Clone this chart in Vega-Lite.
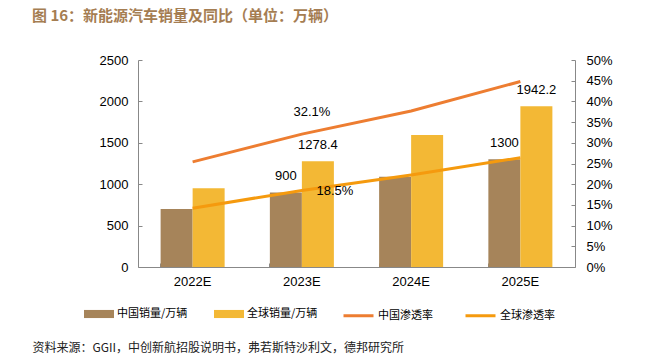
{
  "$schema": "https://vega.github.io/schema/vega-lite/v6.json",
  "width": 437,
  "height": 207,
  "autosize": {"type": "none"},
  "padding": {"left": 138, "top": 60, "right": 83, "bottom": 97},
  "background": "white",
  "config": {"view": {"stroke": null}, "font": "Liberation Sans"},
  "title": {
    "text": "图 16：新能源汽车销量及同比（单位：万辆）",
    "anchor": "start",
    "frame": "group",
    "dx": -106,
    "offset": 30,
    "font": "Noto Sans CJK SC",
    "fontSize": 15,
    "fontWeight": "bold",
    "color": "#A57D52"
  },
  "datasets": {
    "bars": [
      {"year": "2022E", "series": "中国销量/万辆", "value": 700, "label": null},
      {"year": "2022E", "series": "全球销量/万辆", "value": 950, "label": null},
      {"year": "2023E", "series": "中国销量/万辆", "value": 900, "label": "900"},
      {"year": "2023E", "series": "全球销量/万辆", "value": 1278.4, "label": "1278.4"},
      {"year": "2024E", "series": "中国销量/万辆", "value": 1090, "label": null},
      {"year": "2024E", "series": "全球销量/万辆", "value": 1595, "label": null},
      {"year": "2025E", "series": "中国销量/万辆", "value": 1300, "label": "1300"},
      {"year": "2025E", "series": "全球销量/万辆", "value": 1942.2, "label": "1942.2"}
    ],
    "lines": [
      {"year": "2022E", "line": "中国渗透率", "pct": 0.254, "label": null},
      {"year": "2023E", "line": "中国渗透率", "pct": 0.321, "label": "32.1%"},
      {"year": "2024E", "line": "中国渗透率", "pct": 0.377, "label": null},
      {"year": "2025E", "line": "中国渗透率", "pct": 0.448, "label": null},
      {"year": "2022E", "line": "全球渗透率", "pct": 0.142, "label": null},
      {"year": "2023E", "line": "全球渗透率", "pct": 0.185, "label": "18.5%"},
      {"year": "2024E", "line": "全球渗透率", "pct": 0.222, "label": null},
      {"year": "2025E", "line": "全球渗透率", "pct": 0.264, "label": null}
    ]
  },
  "encoding": {
    "x": {
      "field": "year",
      "type": "nominal",
      "scale": {"paddingInner": 0.414, "paddingOuter": 0.207},
      "axis": {
        "title": "资料来源：GGII，中创新航招股说明书，弗若斯特沙利文，德邦研究所",
        "titleX": -106,
        "titleY": 80,
        "titleAlign": "left",
        "titleBaseline": "middle",
        "titleFont": "Noto Sans CJK SC",
        "titleFontSize": 12,
        "titleFontWeight": "normal",
        "titleColor": "#222",
        "labelAngle": 0,
        "labelFontSize": 13,
        "labelColor": "#000",
        "labelPadding": 12,
        "domainColor": "#888",
        "tickColor": "#888",
        "tickSize": -4,
        "bandPosition": 0
      }
    }
  },
  "layer": [
    {
      "data": {"name": "bars"},
      "encoding": {
        "xOffset": {"field": "series", "type": "nominal", "sort": ["中国销量/万辆", "全球销量/万辆"], "scale": {"paddingInner": 0}},
        "y": {
          "field": "value",
          "type": "quantitative",
          "scale": {"domain": [0, 2500]},
          "axis": {
            "title": null,
            "format": "d",
            "values": [0, 500, 1000, 1500, 2000, 2500],
            "grid": false,
            "labelOverlap": false,
            "labelFontSize": 13,
            "labelColor": "#000",
            "labelPadding": 14,
            "domainColor": "#888",
            "tickColor": "#888",
            "tickSize": -4
          }
        }
      },
      "layer": [
        {
          "mark": {"type": "bar"},
          "encoding": {
            "fill": {
              "field": "series",
              "type": "nominal",
              "sort": ["中国销量/万辆", "全球销量/万辆"],
              "scale": {"domain": ["中国销量/万辆", "全球销量/万辆"], "range": ["#A6845A", "#F3B835"]},
              "legend": {
                "title": null,
                "orient": "none",
                "legendX": -54,
                "legendY": 239,
                "direction": "horizontal",
                "columnPadding": 26,
                "symbolType": "M-1,-0.27H1V0.27H-1Z",
                "symbolSize": 900,
                "symbolStrokeWidth": 0,
                "symbolOpacity": 1,
                "labelFont": "Noto Sans CJK SC",
                "labelFontSize": 11,
                "labelColor": "#000",
                "labelOffset": 3
              }
            }
          }
        },
        {
          "mark": {"type": "text", "dy": -9, "fontSize": 13, "color": "#000", "baseline": "bottom"},
          "transform": [{"filter": "datum.label != null"}],
          "encoding": {
            "text": {"field": "label"}
          }
        }
      ]
    },
    {
      "data": {"name": "lines"},
      "encoding": {
        "y": {
          "field": "pct",
          "type": "quantitative",
          "scale": {"domain": [0, 0.5]},
          "axis": {
            "title": null,
            "orient": "right",
            "format": ".0%",
            "values": [0, 0.05, 0.1, 0.15, 0.2, 0.25, 0.3, 0.35, 0.4, 0.45, 0.5],
            "grid": false,
            "labelOverlap": false,
            "labelFontSize": 13,
            "labelColor": "#000",
            "labelPadding": 15,
            "domainColor": "#888",
            "tickColor": "#888",
            "tickSize": -4
          }
        }
      },
      "layer": [
        {
          "mark": {"type": "line", "strokeWidth": 3},
          "encoding": {
            "stroke": {
              "field": "line",
              "type": "nominal",
              "scale": {"domain": ["中国渗透率", "全球渗透率"], "range": ["#ED7D31", "#F59A0E"]},
              "legend": {
                "title": null,
                "orient": "none",
                "legendX": 204,
                "legendY": 239,
                "direction": "horizontal",
                "columnPadding": 26,
                "symbolType": "stroke",
                "symbolSize": 900,
                "symbolStrokeWidth": 3,
                "labelFont": "Noto Sans CJK SC",
                "labelFontSize": 11,
                "labelColor": "#000",
                "labelOffset": 3
              }
            }
          }
        },
        {
          "mark": {"type": "text", "dx": 10, "dy": -22, "fontSize": 13, "color": "#000"},
          "transform": [{"filter": "datum.label == '32.1%'"}],
          "encoding": {
            "text": {"field": "label"}
          }
        },
        {
          "mark": {"type": "text", "dx": 33, "dy": 1, "fontSize": 13, "color": "#000"},
          "transform": [{"filter": "datum.label == '18.5%'"}],
          "encoding": {
            "text": {"field": "label"}
          }
        }
      ]
    }
  ],
  "resolve": {"scale": {"y": "independent"}}
}
